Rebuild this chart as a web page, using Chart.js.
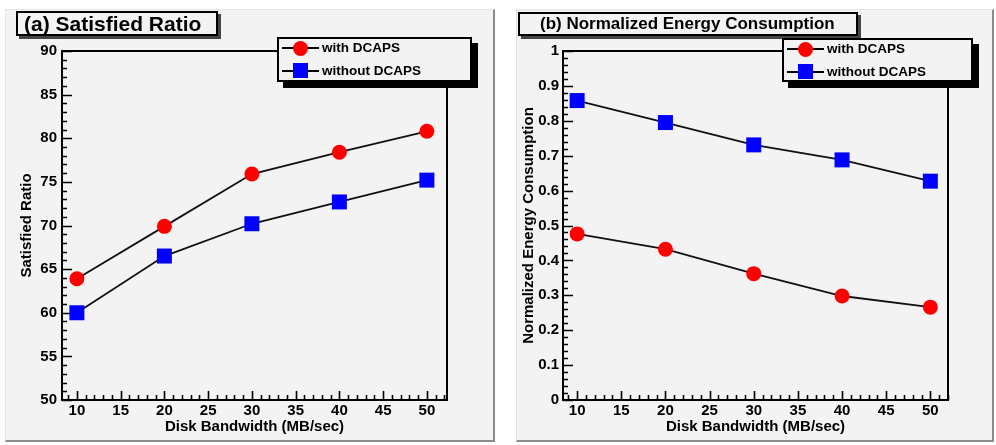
<!DOCTYPE html>
<html>
<head>
<meta charset="utf-8">
<script src="https://cdn.jsdelivr.net/npm/chart.js@4.4.1/dist/chart.umd.min.js"></script>
<style>
  body { margin: 0; width: 996px; height: 445px; background: #fff; position: relative; overflow: hidden;
         font-family: "Liberation Sans", Arial, sans-serif; font-weight: bold; color: #000; }
  .pad { position: absolute; background: #f3f3f3; box-sizing: border-box;
         border-left: 1px solid #e4e4e4; border-top: 1px solid #e4e4e4;
         border-right: 2px solid #8c8c8c; border-bottom: 2px solid #8c8c8c; }
  canvas { position: absolute; }
  .ttl { position: absolute; background: #f3f3f3; border: 2px solid #000; box-sizing: border-box;
         box-shadow: 3px 3px 0 #444; white-space: nowrap; }
  .leg { position: absolute; background: #f3f3f3; border: 2px solid #000; box-sizing: border-box;
         box-shadow: 6px 6px 0 #000; }
  .row { position: absolute; left: 0; height: 20px; width: 100%; }
  .row .ln { position: absolute; left: 3px; width: 37px; top: 9px; height: 2px; background: #000; }
  .row .mk { position: absolute; }
  .row .dot { left: 14px; top: 3px; width: 15px; height: 15px; border-radius: 50%; background: #ff0000; }
  .row .sq { left: 14px; top: 2px; width: 15px; height: 15px; background: #0000ff; }
  .row span { position: absolute; left: 43px; top: 2px; font-size: 13.5px; line-height: 16px; white-space: nowrap; }
</style>
</head>
<body>
<div class="pad" style="left:5px; top:9px; width:490px; height:433px"></div>
<div class="pad" style="left:516px; top:9px; width:478px; height:433px"></div>

<canvas id="chartA" width="488" height="431" style="left:5px; top:10px"></canvas>
<canvas id="chartB" width="477" height="431" style="left:516px; top:10px"></canvas>

<div class="ttl" style="left:16px; top:11px; width:202px; height:25px; font-size:21px; line-height:21px; padding-left:6px">(a) Satisfied Ratio</div>
<div class="ttl" style="left:518px; top:12px; width:340px; height:24px; font-size:17px; line-height:20px; padding-left:20px">(b) Normalized Energy Consumption</div>

<div class="leg" id="legA" style="left:277px; top:37px; width:195px; height:45px"></div>
<div class="leg" id="legB" style="left:782px; top:38px; width:191px; height:44px"></div>

<script>
// x values and series
const bandwidth = [10, 20, 30, 40, 50];
const ratioWith = [63.9, 69.9, 75.9, 78.4, 80.8];
const ratioWithout = [60.0, 66.5, 70.2, 72.7, 75.2];
const energyWith = [0.476, 0.432, 0.362, 0.298, 0.266];
const energyWithout = [0.858, 0.795, 0.731, 0.688, 0.627];
const seriesNames = ['with DCAPS', 'without DCAPS'];

// tick labels
const xTicks = [10, 15, 20, 25, 30, 35, 40, 45, 50];
const ratioTicks = [50, 55, 60, 65, 70, 75, 80, 85, 90];
const energyTicks = [0, 0.1, 0.2, 0.3, 0.4, 0.5, 0.6, 0.7, 0.8, 0.9, 1];

const FONT = 'Liberation Sans, Arial, sans-serif';

// frame box plus inward tick marks, drawn under the markers
const rootFrame = {
  id: 'rootFrame',
  beforeDatasetsDraw(chart, args, opts) {
    const { ctx, chartArea: a, scales: { x, y } } = chart;
    ctx.save();
    ctx.strokeStyle = '#000';
    ctx.lineWidth = 2;
    ctx.strokeRect(a.left, a.top, a.right - a.left, a.bottom - a.top);
    ctx.lineWidth = 1.6;
    ctx.beginPath();
    for (let v = Math.ceil(x.min); v <= x.max; v++) {
      const px = Math.round(x.getPixelForValue(v)) + 0.5;
      const len = v % 5 === 0 ? 9 : 5;
      ctx.moveTo(px, a.bottom);
      ctx.lineTo(px, a.bottom - len);
    }
    for (let i = 0; ; i++) {
      const v = y.min + i * opts.minor;
      if (v > y.max + 1e-9) break;
      const py = Math.round(y.getPixelForValue(v)) + 0.5;
      const len = i % 5 === 0 ? 10 : 5;
      ctx.moveTo(a.left, py);
      ctx.lineTo(a.left + len, py);
    }
    ctx.stroke();
    ctx.restore();
  }
};

function series(label, values, style, color, radius) {
  return {
    label,
    data: bandwidth.map((b, i) => ({ x: b, y: values[i] })),
    borderColor: '#111',
    borderWidth: 1.8,
    pointStyle: style,
    pointRadius: radius,
    pointHoverRadius: radius,
    pointBorderWidth: 0,
    pointBackgroundColor: color,
    pointBorderColor: color,
    tension: 0
  };
}

function makeChart(id, cfg) {
  const tickFont = { family: FONT, size: 15, weight: 'bold' };
  return new Chart(document.getElementById(id), {
    type: 'line',
    data: {
      datasets: [
        series(seriesNames[0], cfg.withData, 'circle', '#ff0000', 7.5),
        series(seriesNames[1], cfg.withoutData, 'rect', '#0000ff', 10.6)
      ]
    },
    options: {
      responsive: false,
      animation: false,
      layout: { padding: { left: 0, top: 41, right: cfg.padRight, bottom: 0 } },
      plugins: {
        legend: { display: false },
        tooltip: { enabled: false },
        rootFrame: { minor: cfg.minor }
      },
      scales: {
        x: {
          type: 'linear',
          min: cfg.xMin,
          max: cfg.xMax,
          grid: { display: false, drawTicks: false },
          border: { display: false },
          afterBuildTicks: s => { s.ticks = xTicks.map(v => ({ value: v })); },
          afterFit: s => { s.height = 41; },
          ticks: { color: '#000', font: tickFont, padding: 2, maxRotation: 0, autoSkip: false },
          title: {
            display: true, text: 'Disk Bandwidth (MB/sec)', color: '#000',
            font: { family: FONT, size: 15, weight: 'bold' }, padding: { top: 0, bottom: 5 }
          }
        },
        y: {
          type: 'linear',
          min: cfg.yTicks[0],
          max: cfg.yTicks[cfg.yTicks.length - 1],
          grid: { display: false, drawTicks: false },
          border: { display: false },
          afterBuildTicks: s => { s.ticks = cfg.yTicks.map(v => ({ value: v })); },
          afterFit: s => { s.width = cfg.yWidth; },
          ticks: { color: '#000', font: tickFont, padding: cfg.yPad, autoSkip: false, callback: v => String(v) },
          title: {
            display: true, text: cfg.yTitle, color: '#000',
            font: { family: FONT, size: cfg.yTitleSize, weight: 'bold' }, padding: { top: cfg.yTitlePad, bottom: 0 }
          }
        }
      }
    },
    plugins: [rootFrame]
  });
}

function buildLegend(elId) {
  const el = document.getElementById(elId);
  const marks = ['dot', 'sq'];
  el.innerHTML = seriesNames.map((name, i) =>
    `<div class="row" style="top:${i === 0 ? -1 : 22}px"><i class="ln"></i><i class="mk ${marks[i]}"></i><span>${name}</span></div>`
  ).join('');
}

makeChart('chartA', {
  withData: ratioWith, withoutData: ratioWithout,
  yTicks: ratioTicks, minor: 1,
  xMin: 8.3, xMax: 52.3,
  yWidth: 57, yPad: 5, padRight: 46,
  yTitle: 'Satisfied Ratio', yTitleSize: 15, yTitlePad: 13
});

makeChart('chartB', {
  withData: energyWith, withoutData: energyWithout,
  yTicks: energyTicks, minor: 0.02,
  xMin: 8.4, xMax: 52.0,
  yWidth: 47, yPad: 4, padRight: 45,
  yTitle: 'Normalized Energy Consumption', yTitleSize: 15, yTitlePad: 4
});

buildLegend('legA');
buildLegend('legB');
</script>
</body>
</html>
